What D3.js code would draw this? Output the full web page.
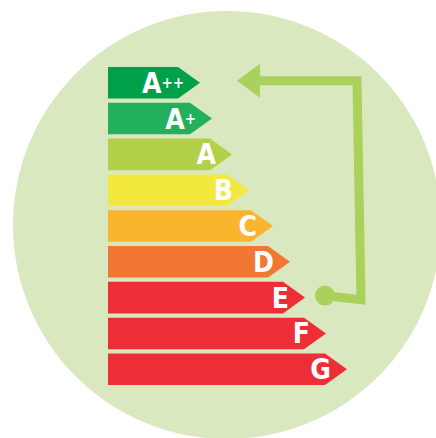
<!DOCTYPE html>
<meta charset="utf-8">
<head>
    <script src="https://cdn.jsdelivr.net/npm/d3@7"></script>
    <style>
        body { margin: 0; background: #fff; }
        .label { font-family: "DejaVu Sans Condensed", "Lato", sans-serif; font-weight: bold; fill: #fff; }
    </style>
</head>
<body>
<script type="text/javascript">

    // energy classes and bar lengths (arbitrary units)
    var classes = ["A++", "A+", "A", "B", "C", "D", "E", "F", "G"];
    var lengths = [92, 104, 124, 141, 165, 182, 197, 218, 239];
    var colors = ["#00a04b", "#22b05d", "#b3d04b", "#f2e83e", "#fbb42e", "#f17733", "#ee2e36", "#ee2e36", "#ee2e36"];
    var fromClass = "E";
    var toClass = "A++";

    var width = 436;
    var height = 438;

    var svg = d3.select("body")
        .append("svg")
        .attr("width", width)
        .attr("height", height);

    // background disc
    svg.append("circle")
        .attr("cx", 227)
        .attr("cy", 225)
        .attr("r", 214)
        .attr("fill", "#d9e8bf");

    var x = d3.scaleLinear()
        .domain([0, 240])
        .range([108, 348]);

    var y = d3.scaleBand()
        .domain(classes)
        .range([67, 385])
        .paddingInner(0.12);

    var depth = 22; // length of arrow point

    var rows = classes.map(function (c, i) {
        return {cls: c, len: lengths[i], color: colors[i]};
    });

    function barPath(d) {
        var x0 = x(0), x1 = x(d.len);
        var t = y(d.cls), b = t + y.bandwidth(), m = t + y.bandwidth() / 2;
        return "M" + x0 + "," + t +
            "L" + (x1 - depth) + "," + t +
            "L" + x1 + "," + m +
            "L" + (x1 - depth) + "," + b +
            "L" + x0 + "," + b + "Z";
    }

    svg.append("g")
        .selectAll("path")
        .data(rows)
        .enter()
        .append("path")
        .attr("d", barPath)
        .attr("fill", function (d) { return d.color; });

    // letters
    var labels = svg.append("g")
        .selectAll("text")
        .data(rows)
        .enter()
        .append("text")
        .attr("class", "label")
        .attr("x", function (d) { return x(d.len) - 16; })
        .attr("y", function (d) { return y(d.cls) + y.bandwidth() / 2 + 10; })
        .attr("text-anchor", "end");

    labels.append("tspan")
        .attr("font-size", "28px")
        .text(function (d) { return d.cls.charAt(0); });

    labels.filter(function (d) { return d.cls.length > 1; })
        .append("tspan")
        .attr("font-size", "15px")
        .attr("dy", -5)
        .text(function (d) { return d.cls.slice(1); });

    // feedback arrow from E up to A++
    var green = "#a9d15b";
    var fromRow = rows[classes.indexOf(fromClass)];
    var toRow = rows[classes.indexOf(toClass)];
    var dotX = x(fromRow.len) + 20;
    var dotY = y(fromClass) + y.bandwidth() / 2 - 2;
    var topY = y(toClass) + y.bandwidth() / 2 - 2;
    var headTip = x(toRow.len) + 37;
    var headBase = headTip + 23;
    var railX = 361;

    svg.append("path")
        .attr("d", "M" + dotX + "," + dotY +
            "L" + railX + "," + (dotY + 4) +
            "L" + (railX - 4) + "," + topY +
            "L" + headBase + "," + topY)
        .attr("fill", "none")
        .attr("stroke", green)
        .attr("stroke-width", 9)
        .attr("stroke-linejoin", "miter");

    svg.append("path")
        .attr("d", "M" + headTip + "," + topY +
            "L" + headBase + "," + (topY - 17) +
            "L" + headBase + "," + (topY + 17) + "Z")
        .attr("fill", green);

    svg.append("circle")
        .attr("cx", dotX)
        .attr("cy", dotY)
        .attr("r", 10)
        .attr("fill", green);

</script>
</body>
</html>
